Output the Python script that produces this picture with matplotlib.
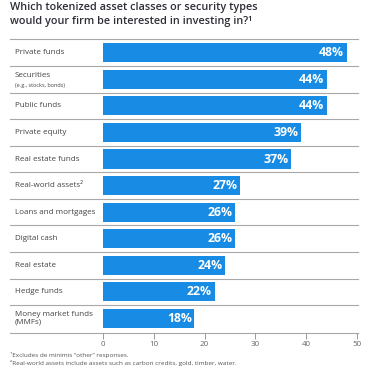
import matplotlib
matplotlib.use("Agg")
import matplotlib.pyplot as plt
from matplotlib.transforms import blended_transform_factory

categories = ["Private funds", "Securities", "Public funds", "Private equity",
              "Real estate funds", "Real-world assets²", "Loans and mortgages",
              "Digital cash", "Real estate", "Hedge funds", "Money market funds\n(MMFs)"]
values = [48, 44, 44, 39, 37, 27, 26, 26, 24, 22, 18]
value_labels = ["48%", "44%", "44%", "39%", "37%", "27%", "26%", "26%", "24%", "22%", "18%"]
xticks = [0, 10, 20, 30, 40, 50]
title = "Which tokenized asset classes or security types\nwould your firm be interested in investing in?¹"
footnotes = ["¹Excludes de minimis “other” responses.",
             "²Real-world assets include assets such as carbon credits, gold, timber, water."]

BLUE = "#188CE5"
DARK = "#2e2e38"
GRAY = "#444444"
LINE = "#a8a8a8"

plt.rcParams['font.family'] = ['Open Sans', 'DejaVu Sans']

W, H = 370, 383
fig = plt.figure(figsize=(W / 100, H / 100), dpi=100)
x0, x1 = 103, 357
ytop, ybot = 39.5, 333
ax = fig.add_axes([x0 / W, 1 - ybot / H, (x1 - x0) / W, (ybot - ytop) / H])

n = len(categories)
ys = list(range(n))
ax.barh(ys, values, height=0.72, color=BLUE, zorder=2)
ax.set_xlim(0, 50)
ax.set_ylim(n - 1 + 0.55, -0.5)

for s in ax.spines.values():
    s.set_visible(False)
ax.set_yticks([])
ax.set_xticks(xticks)
ax.set_xticklabels([str(t) for t in xticks], fontsize=5.8, color="#666666")
ax.tick_params(axis='x', length=4, width=0.6, color="#888888", pad=2)

xmin_frac = (10 - x0) / (x1 - x0)
xmax_frac = (358 - x0) / (x1 - x0)
for yl in [-0.5] + [i + 0.5 for i in range(n - 1)]:
    ax.axhline(yl, xmin=xmin_frac, xmax=xmax_frac, color=LINE, lw=0.8, clip_on=False, zorder=1)
ax.axhline(n - 1 + 0.55, xmin=xmin_frac, xmax=xmax_frac, color=LINE, lw=0.8, clip_on=False, zorder=1)

trans = blended_transform_factory(fig.transFigure, ax.transData)
lx = 15 / W
for i, cat in enumerate(categories):
    if cat == "Securities":
        ax.text(lx, i - 0.14, cat, transform=trans, fontsize=5.8, color=GRAY, va='center', ha='left')
        ax.text(lx, i + 0.22, "(e.g., stocks, bonds)", transform=trans, fontsize=4.0, color=GRAY,
                va='center', ha='left')
    else:
        ax.text(lx, i, cat, transform=trans, fontsize=5.8, color=GRAY, va='center', ha='left',
                linespacing=1.1)

for i, (v, lab) in enumerate(zip(values, value_labels)):
    ax.annotate(lab, (v, i), xytext=(-2, 0), textcoords='offset points', ha='right', va='center',
                fontsize=8.8, color='white', fontweight='bold', zorder=3)

fig.text(10 / W, 1 - 2 / H, title, fontsize=7.8, color=DARK, fontweight='semibold',
         va='top', ha='left', linespacing=1.4)

fig.text(10 / W, 1 - 355 / H, footnotes[0], fontsize=4.6, color="#555555", va='center', ha='left')
fig.text(10 / W, 1 - 363 / H, footnotes[1], fontsize=4.6, color="#555555", va='center', ha='left')

fig.savefig("out.png", dpi=100)
